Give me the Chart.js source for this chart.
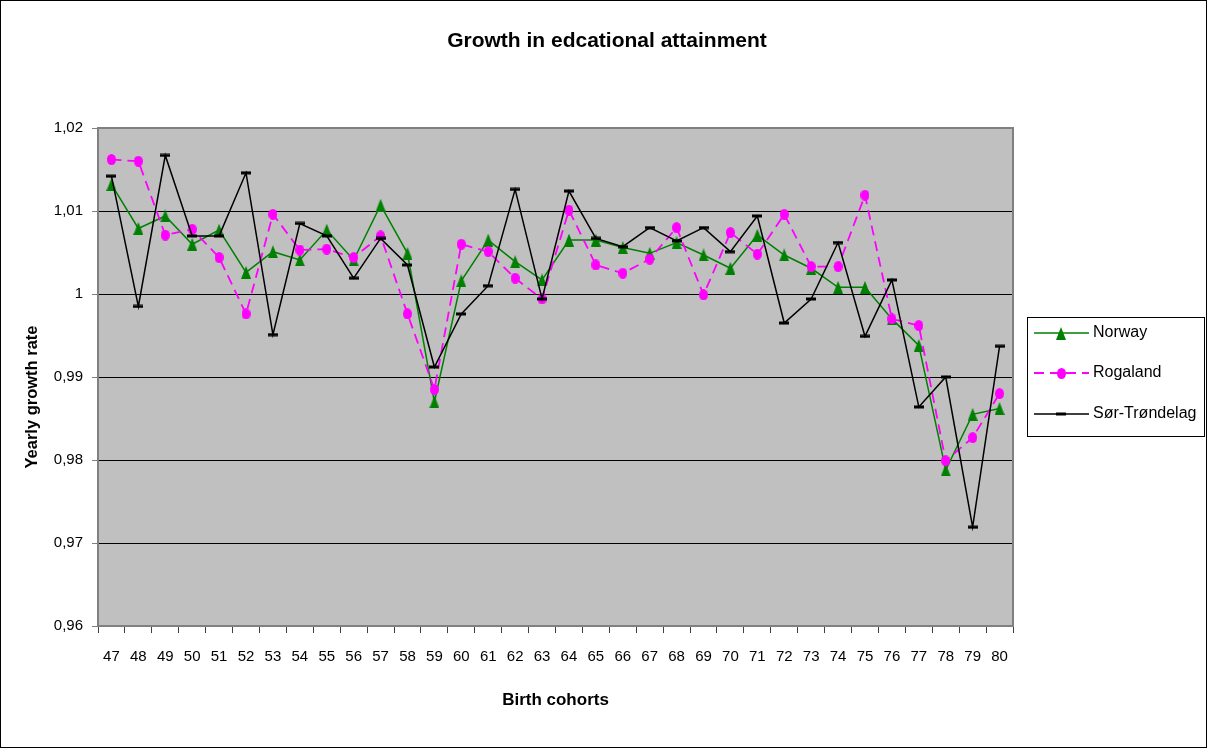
<!DOCTYPE html>
<html>
<head>
<meta charset="utf-8">
<title>Growth in edcational attainment</title>
<script src="https://cdn.jsdelivr.net/npm/chart.js@4.4.1/dist/chart.umd.min.js"></script>
<style>
  html, body { margin: 0; padding: 0; background: #ffffff; }
  #wrap { width: 1208px; height: 749px; }
</style>
</head>
<body>
<div id="wrap"><canvas id="chart" width="1208" height="749"></canvas></div>
<script>
// Birth cohorts (year of birth, 19xx)
const cohorts = ['47','48','49','50','51','52','53','54','55','56','57','58','59','60','61','62','63',
                 '64','65','66','67','68','69','70','71','72','73','74','75','76','77','78','79','80'];

// Yearly growth rate in educational attainment
const norway = [1.0132, 1.0079, 1.0094, 1.0060, 1.0077, 1.0026, 1.0051, 1.0041, 1.0077, 1.0041, 1.0107,
                1.0049, 0.9870, 1.0016, 1.0065, 1.0039, 1.0017, 1.0065, 1.0065, 1.0056, 1.0049, 1.0062,
                1.0047, 1.0031, 1.0071, 1.0047, 1.0031, 1.0008, 1.0008, 0.9970, 0.9938, 0.9788, 0.9855, 0.9862];
const rogaland = [1.0162, 1.0160, 1.0071, 1.0078, 1.0044, 0.9976, 1.0096, 1.0053, 1.0054, 1.0044, 1.0070,
                  0.9976, 0.9885, 1.0060, 1.0051, 1.0019, 0.9994, 1.0101, 1.0035, 1.0025, 1.0042, 1.0080,
                  0.9999, 1.0074, 1.0048, 1.0096, 1.0033, 1.0033, 1.0119, 0.9970, 0.9962, 0.9799, 0.9827, 0.9880];
const sorTrondelag = [1.0142, 0.9985, 1.0167, 1.0070, 1.0070, 1.0146, 0.9951, 1.0085, 1.0070, 1.0019, 1.0067,
                      1.0035, 0.9912, 0.9976, 1.0010, 1.0126, 0.9994, 1.0124, 1.0067, 1.0057, 1.0080, 1.0064,
                      1.0080, 1.0051, 1.0094, 0.9965, 0.9994, 1.0062, 0.9949, 1.0017, 0.9864, 0.9900, 0.9719, 0.9937];

const yMin = 0.96, yMax = 1.02, yStep = 0.01;

const chartTitle = 'Growth in edcational attainment';
const xTitle = 'Birth cohorts';
const yTitle = 'Yearly growth rate';
const seriesNames = ['Norway', 'Rogaland', 'Sør-Trøndelag'];

const FONT = "'Liberation Sans', Arial, sans-serif";
const GREEN = '#008000', MAGENTA = '#FF00FF', BLACK = '#000000';

// Marker sprites (slightly taller than wide)
function sprite(w, h, paint) {
  const c = document.createElement('canvas');
  c.width = w; c.height = h;
  paint(c.getContext('2d'), w, h);
  return c;
}
const triangleMark = sprite(10, 13, (g, w, h) => {
  g.fillStyle = GREEN;
  g.beginPath();
  g.moveTo(w / 2, 0);
  g.lineTo(w, h);
  g.lineTo(0, h);
  g.closePath();
  g.fill();
});
const ellipseMark = sprite(9, 11, (g, w, h) => {
  g.fillStyle = MAGENTA;
  g.beginPath();
  g.ellipse(w / 2, h / 2, w / 2, h / 2, 0, 0, Math.PI * 2);
  g.fill();
});
const dashMark = sprite(10, 4, (g, w, h) => {
  g.fillStyle = BLACK;
  g.fillRect(0, 0.5, w, 3);
});

// Plot frame, titles and legend drawn around the chart area
const framePlugin = {
  id: 'frame',
  beforeDraw(chart) {
    const { ctx, chartArea: a } = chart;
    ctx.save();
    ctx.fillStyle = '#ffffff';
    ctx.fillRect(0, 0, chart.width, chart.height);
    ctx.fillStyle = '#C0C0C0';
    ctx.fillRect(a.left, a.top, a.right - a.left, a.bottom - a.top);
    ctx.restore();
  },
  beforeDatasetsDraw(chart) {
    const { ctx, chartArea: a } = chart;
    ctx.save();
    ctx.strokeStyle = '#808080';
    ctx.lineWidth = 2;
    ctx.beginPath();
    ctx.moveTo(a.left, a.top);
    ctx.lineTo(a.right, a.top);
    ctx.lineTo(a.right, a.bottom);
    ctx.stroke();
    ctx.restore();
  },
  afterDraw(chart) {
    const { ctx, chartArea: a } = chart;
    ctx.save();
    // outer border
    ctx.strokeStyle = '#000000';
    ctx.lineWidth = 1;
    ctx.strokeRect(0.5, 0.5, chart.width - 2, chart.height - 2);

    ctx.fillStyle = '#000000';
    ctx.textAlign = 'center';
    ctx.textBaseline = 'middle';
    ctx.font = 'bold 21px ' + FONT;
    ctx.fillText(chartTitle, 607, 41);

    ctx.font = 'bold 17px ' + FONT;
    ctx.fillText(xTitle, (a.left + a.right) / 2, 700);

    ctx.save();
    ctx.translate(32, 397);
    ctx.rotate(-Math.PI / 2);
    ctx.font = 'bold 16.5px ' + FONT;
    ctx.fillText(yTitle, 0, 0);
    ctx.restore();

    // legend
    const lx = 1027, ly = 317, lw = 177, lh = 119;
    ctx.fillStyle = '#ffffff';
    ctx.fillRect(lx, ly, lw, lh);
    ctx.strokeStyle = '#000000';
    ctx.lineWidth = 1;
    ctx.strokeRect(lx + 0.5, ly + 0.5, lw, lh);

    const rows = [333, 373, 414];
    const x0 = 1034, x1 = 1089, mx = 1061;
    chart.data.datasets.forEach((ds, i) => {
      const y = rows[i];
      ctx.save();
      ctx.strokeStyle = ds.borderColor;
      ctx.lineWidth = ds.borderWidth;
      ctx.setLineDash(ds.borderDash || []);
      ctx.beginPath();
      ctx.moveTo(x0, y);
      ctx.lineTo(x1, y);
      ctx.stroke();
      ctx.setLineDash([]);
      const img = ds.pointStyle;
      ctx.drawImage(img, Math.round(mx - img.width / 2), Math.round(y - img.height / 2));
      ctx.restore();
      ctx.fillStyle = '#000000';
      ctx.textAlign = 'left';
      ctx.textBaseline = 'middle';
      ctx.font = '16px ' + FONT;
      ctx.fillText(ds.label, 1093, y);
    });
    ctx.restore();
  }
};

new Chart(document.getElementById('chart'), {
  type: 'line',
  data: {
    labels: cohorts,
    datasets: [
      {
        label: seriesNames[0], data: norway, order: 3,
        borderColor: GREEN, borderWidth: 1.5, pointStyle: triangleMark,
        pointRadius: 6, tension: 0, fill: false
      },
      {
        label: seriesNames[1], data: rogaland, order: 2,
        borderColor: MAGENTA, borderWidth: 1.8, borderDash: [10, 6], pointStyle: ellipseMark,
        pointRadius: 5, tension: 0, fill: false
      },
      {
        label: seriesNames[2], data: sorTrondelag, order: 1,
        borderColor: BLACK, borderWidth: 1.5, pointStyle: dashMark,
        pointRadius: 5, tension: 0, fill: false
      }
    ]
  },
  options: {
    responsive: false,
    animation: false,
    events: [],
    layout: { autoPadding: false, padding: { left: 0, top: 128, right: 195, bottom: 0 } },
    plugins: { legend: { display: false }, title: { display: false }, tooltip: { enabled: false } },
    scales: {
      x: {
        type: 'category',
        offset: true,
        afterFit(scale) { scale.height = 123; },
        grid: { display: true, offset: true, drawOnChartArea: false, drawTicks: true, tickLength: 7, tickColor: '#404040' },
        border: { display: true, color: '#808080', width: 2 },
        ticks: { color: '#000000', font: { family: FONT, size: 15 }, padding: 15, maxRotation: 0, autoSkip: false }
      },
      y: {
        min: yMin, max: yMax,
        afterFit(scale) { scale.width = 98; },
        grid: { color: '#000000', lineWidth: 1, drawTicks: true, tickLength: 6, tickColor: '#808080' },
        border: { display: true, color: '#808080', width: 2 },
        ticks: {
          stepSize: yStep,
          color: '#000000',
          font: { family: FONT, size: 15 },
          padding: 9,
          callback: (v) => String(Number(Number(v).toFixed(2))).replace('.', ',')
        }
      }
    }
  },
  plugins: [framePlugin]
});
</script>
</body>
</html>
